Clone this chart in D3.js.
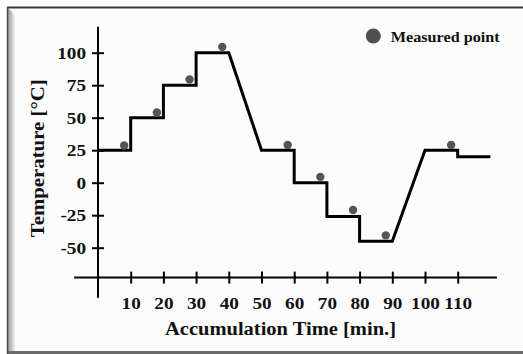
<!DOCTYPE html>
<html>
<head>
<meta charset="utf-8">
<script src="https://cdn.jsdelivr.net/npm/d3@7"></script>
<style>
html,body{margin:0;padding:0;background:#fff;}
svg{display:block;}
text{font-family:"Liberation Serif","Times New Roman",serif;font-weight:bold;fill:#111;}
</style>
</head>
<body>
<svg id="chart" width="523" height="354"></svg>
<script>
// Temperature profile (step program)
const profileTime = [0,10,10,20,20,30,30,40,50,60,60,70,70,80,80,90,100,110,110,120];
const profileTemp = [25,25,50,50,75,75,100,100,25,25,0,0,-26,-26,-45,-45,25,25,20,20];
// Measured points
const measTime = [8,18,28,38,58,68,78,88,108];
const measTemp = [28.6,54,79.5,104.5,29,4.5,-21,-40.5,29];
// Ticks
const xTicks = [10,20,30,40,50,60,70,80,90,100,110];
const yTicks = [-50,-25,0,25,50,75,100];
const xTitle = "Accumulation Time [min.]";
const yTitle = "Temperature [°C]";
const legendLabel = "Measured point";

const svg = d3.select("#chart");

// frame
svg.append("rect").attr("x",7).attr("y",7).attr("width",516).attr("height",347).attr("fill","#fcfcfc");
const defs = svg.append("defs");
const g1 = defs.append("linearGradient").attr("id","bevL").attr("x1","0").attr("x2","1").attr("y1","0").attr("y2","0");
g1.append("stop").attr("offset","0").attr("stop-color","#9a9a9a");
g1.append("stop").attr("offset","1").attr("stop-color","#f2f2f2");
svg.append("polygon").attr("points","8,8 15,15 15,351 8,351").attr("fill","url(#bevL)");
svg.append("rect").attr("x",8).attr("y",351).attr("width",515).attr("height",3).attr("fill","#6a6a6a");
svg.append("line").attr("x1",7).attr("x2",523).attr("y1",7.5).attr("y2",7.5).attr("stroke","#3a3a3a").attr("stroke-width",2);
svg.append("line").attr("x1",7.5).attr("x2",7.5).attr("y1",7).attr("y2",354).attr("stroke","#4a4a4a").attr("stroke-width",1.5);

const x = d3.scaleLinear().domain([0,110]).range([98,457.7]);
const y = d3.scaleLinear().domain([-50,100]).range([247.7,52.7]);

const x0 = x(0), yAxisPos = y(-73);
const fmt = d => String(d);

// axis lines
svg.append("line").attr("x1",x0).attr("x2",x0).attr("y1",y(120)).attr("y2",y(-88.5))
  .attr("stroke","#000").attr("stroke-width",2);
svg.append("line").attr("x1",x(-7.3)).attr("x2",x(122)).attr("y1",yAxisPos).attr("y2",yAxisPos)
  .attr("stroke","#000").attr("stroke-width",2);

const yAxis = svg.append("g").attr("transform",`translate(${x0},0)`)
  .call(d3.axisLeft(y).tickValues(yTicks).tickFormat(fmt).tickSize(6).tickPadding(0));
yAxis.select(".domain").remove();
yAxis.attr("font-family",null).attr("font-size",null);
yAxis.selectAll(".tick line").attr("x1",-6).attr("x2",6).attr("stroke","#000").attr("stroke-width",2);
yAxis.selectAll(".tick text").attr("x",-10).attr("dy","0.34em")
  .attr("transform","scale(1.2,1)").style("font-size","16px").attr("fill","#111");

const xAxis = svg.append("g").attr("transform",`translate(0,${yAxisPos})`)
  .call(d3.axisBottom(x).tickValues(xTicks).tickFormat(fmt).tickSize(6).tickPadding(0));
xAxis.select(".domain").remove();
xAxis.attr("font-family",null).attr("font-size",null);
xAxis.selectAll(".tick line").attr("y1",-6).attr("y2",6).attr("stroke","#000").attr("stroke-width",2);
xAxis.selectAll(".tick text").attr("x",0).attr("y",31.5).attr("dy",0)
  .attr("transform","scale(1.2,1)").style("font-size","16px").attr("fill","#111");

// profile line
const line = d3.line().x(i=>x(profileTime[i])).y(i=>y(profileTemp[i]));
svg.append("path").attr("d",line(d3.range(profileTime.length)))
  .attr("fill","none").attr("stroke","#000").attr("stroke-width",3).attr("stroke-linejoin","miter");

// measured points
svg.append("g").selectAll("circle").data(d3.range(measTime.length)).join("circle")
  .attr("cx",i=>x(measTime[i])).attr("cy",i=>y(measTemp[i])).attr("r",4.2).attr("fill","#555");

// legend
svg.append("circle").attr("cx",373.3).attr("cy",36).attr("r",7.5).attr("fill","#505050");
svg.append("text").attr("x",390.7).attr("y",41.5).attr("textLength",109).attr("lengthAdjust","spacingAndGlyphs")
  .style("font-size","15px").text(legendLabel);

// titles
svg.append("text").attr("x",165).attr("y",335).attr("textLength",231).attr("lengthAdjust","spacingAndGlyphs")
  .style("font-size","18px").text(xTitle);
svg.append("text").attr("transform","translate(44,237.3) rotate(-90)").attr("x",0).attr("y",0)
  .attr("textLength",158).attr("lengthAdjust","spacingAndGlyphs")
  .style("font-size","19px").text(yTitle);
</script>
</body>
</html>
